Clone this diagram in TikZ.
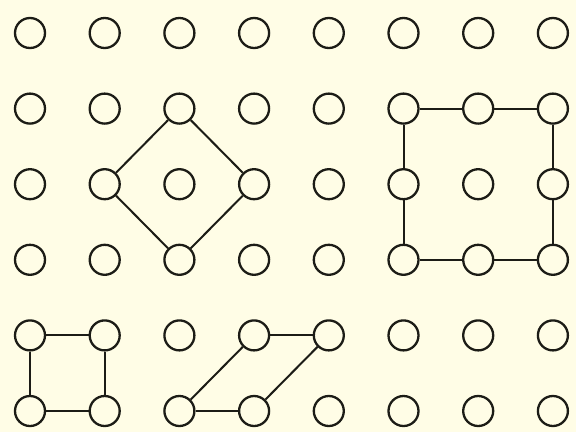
\documentclass[tikz,border=0pt]{standalone}
\usetikzlibrary{positioning}
\definecolor{paper}{HTML}{FFFDE6}
\definecolor{ink}{HTML}{1C1C16}

\begin{document}
\begin{tikzpicture}[
    x=1pt, y=-1pt,
    dot/.style={circle, draw=ink, line width=2.3pt, minimum size=30pt, inner sep=0pt},
    link/.style={draw=ink, line width=2pt},
]
\fill[paper] (0,0) rectangle (576,432);
\useasboundingbox (0,0) rectangle (576,432);

% grid of points, column c, row r
\foreach \c in {1,...,8}
  \foreach \r in {1,...,6}
    \node[dot] (d-\c-\r) at ({30+74.7*(\c-1)},{33+75.6*(\r-1)}) {};

% diamond
\draw[link] (d-3-2) -- (d-2-3);
\draw[link] (d-3-2) -- (d-4-3);
\draw[link] (d-2-3) -- (d-3-4);
\draw[link] (d-4-3) -- (d-3-4);

% big square
\draw[link] (d-6-2) -- (d-7-2);
\draw[link] (d-7-2) -- (d-8-2);
\draw[link] (d-6-4) -- (d-7-4);
\draw[link] (d-7-4) -- (d-8-4);
\draw[link] (d-6-2) -- (d-6-3);
\draw[link] (d-6-3) -- (d-6-4);
\draw[link] (d-8-2) -- (d-8-3);
\draw[link] (d-8-3) -- (d-8-4);

% small square
\draw[link] (d-1-5) -- (d-2-5);
\draw[link] (d-1-6) -- (d-2-6);
\draw[link] (d-1-5) -- (d-1-6);
\draw[link] (d-2-5) -- (d-2-6);

% parallelogram
\draw[link] (d-3-6) -- (d-4-6);
\draw[link] (d-4-5) -- (d-5-5);
\draw[link] (d-3-6) -- (d-4-5);
\draw[link] (d-4-6) -- (d-5-5);
\end{tikzpicture}
\end{document}
